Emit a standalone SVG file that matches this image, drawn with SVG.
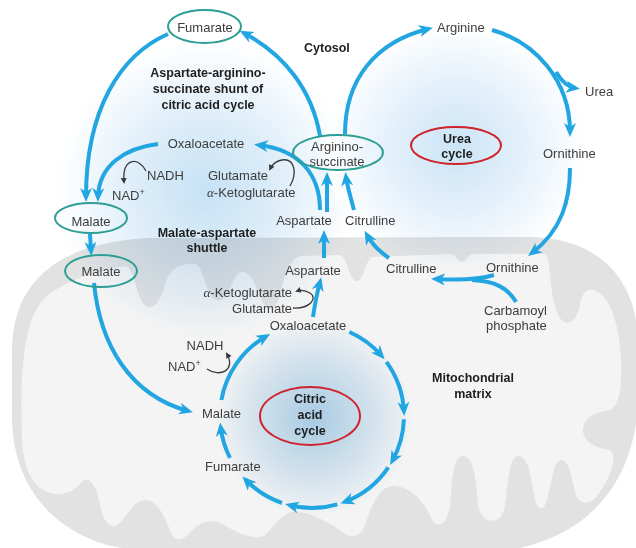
<svg xmlns="http://www.w3.org/2000/svg" width="636" height="548" viewBox="0 0 636 548">
<style>
text{font-family:"Liberation Sans",Arial,sans-serif;font-size:13px;fill:#3d3d3d}
.b{font-weight:bold;font-size:12.5px;fill:#1e1e1e}
.c{text-anchor:middle}
.e{text-anchor:end}
.teal{fill:none;stroke:#2c9e94;stroke-width:2}
.red{fill:none;stroke:#d0222b;stroke-width:2}
.arr{fill:none;stroke:#22a6e2;stroke-width:4;marker-end:url(#ah)}
.thin{fill:none;stroke:#3a3a3a;stroke-width:1.3;marker-end:url(#sh)}
.al{font-family:"Liberation Serif","DejaVu Serif",serif;font-style:italic}
</style>
<defs>
<marker id="ah" markerUnits="userSpaceOnUse" markerWidth="15" markerHeight="13" refX="9" refY="6" orient="auto" viewBox="0 0 15 12">
<path d="M0,0 L14,6 L0,12 L4,6 Z" fill="#22a6e2"/>
</marker>
<marker id="sh" markerUnits="userSpaceOnUse" markerWidth="7" markerHeight="7" refX="4" refY="3" orient="auto" viewBox="0 0 7 6">
<path d="M0,0 L6,3 L0,6 Z" fill="#3a3a3a"/>
</marker>
<radialGradient id="gShunt" cx="0.5" cy="0.5" r="0.5">
<stop offset="0" stop-color="#c6e2f5"/>
<stop offset="0.5" stop-color="#dfeef9"/>
<stop offset="1" stop-color="#ffffff"/>
</radialGradient>
<radialGradient id="gUrea" cx="0.5" cy="0.5" r="0.5">
<stop offset="0" stop-color="#cbe4f6"/>
<stop offset="0.5" stop-color="#e3f0fa"/>
<stop offset="1" stop-color="#ffffff"/>
</radialGradient>
<radialGradient id="gCit" cx="0.5" cy="0.5" r="0.5">
<stop offset="0" stop-color="#b0d4ee"/>
<stop offset="0.5" stop-color="#d6e9f6"/>
<stop offset="1" stop-color="#ffffff"/>
</radialGradient>
</defs>

<rect width="636" height="548" fill="#ffffff"/>

<g id="mitochondrion">
<path d="M122,548 C70,540 14,500 12,420 L12,350 C12,285 55,242 150,238 L530,237 C600,238 636,280 638,340 L638,400 C636,470 600,530 520,548 Z" fill="#e2e2e2"/>
<path d="M22,440 C20,380 22,320 45,298 C60,284 90,272 125,266 C135,266 136,300 146,306 C156,311 162,296 166,282 C170,268 182,262 196,264 C204,268 206,296 216,300 C226,304 230,286 236,276 C242,268 248,272 254,282 C260,300 266,312 274,308 C282,302 282,262 300,256 L340,255 C348,258 348,278 356,281 C364,283 364,262 372,257 L450,254 C456,254 458,262 462,262 C466,262 468,254 474,254 L545,254 C552,256 548,300 560,318 C568,330 578,318 580,305 C582,292 588,286 598,292 C612,300 620,330 621,360 C622,385 620,405 610,410 C595,412 584,418 583,430 C583,442 596,448 610,450 C618,455 612,475 598,495 C590,505 580,505 576,495 C572,480 570,462 562,460 C552,458 552,490 545,505 C538,515 535,500 532,485 C530,468 526,456 518,456 C508,456 508,490 504,510 C500,525 482,525 478,505 C476,488 476,457 463,456 C452,456 452,485 450,505 C448,525 436,532 430,515 C420,495 405,485 392,486 C378,488 372,505 365,525 C360,538 350,540 340,530 C325,520 305,510 292,512 C280,514 272,530 264,536 C250,540 232,530 222,524 C210,518 200,522 190,532 C184,540 176,542 172,535 C166,520 158,500 146,500 C134,500 128,515 120,523 C112,530 104,525 100,505 C96,482 88,476 82,482 C76,488 70,495 55,494 C40,492 24,480 22,440 Z" fill="#f4f4f4"/>
</g>

<g id="glows" style="mix-blend-mode:multiply">
<ellipse cx="206" cy="190" rx="150" ry="150" fill="url(#gShunt)"/>
<ellipse cx="456" cy="148" rx="130" ry="125" fill="url(#gUrea)"/>
<ellipse cx="314" cy="418" rx="100" ry="100" fill="url(#gCit)"/>
</g>

<g id="connectors">
<path class="arr" d="M320,136 C312,90 285,55 244,33"/>
<path class="arr" d="M168,34 C120,55 86,110 86,197"/>
<path class="arr" d="M158,144 C125,148 99,165 98,197"/>
<path class="arr" d="M320,210 C320,175 300,150 259,145"/>
<path class="arr" d="M327,212 L327,177"/>
<path class="arr" d="M354,210 C350,195 347,185 346,177"/>
<path class="arr" d="M345,134 C345,80 375,42 428,29"/>
<path class="arr" d="M492,30 C535,42 570,80 570,132"/>
<path class="arr" d="M556,72 C562,82 568,87 575,88"/>
<path class="arr" d="M570,168 C570,200 562,230 532,253"/>
<path class="arr" d="M494,275 C478,280 455,280 436,279"/>
<path class="arr" style="marker-end:none" d="M516,302 C508,288 495,281 472,280"/>
<path class="arr" d="M389,258 C380,252 372,244 367,235"/>
<path class="arr" d="M324,258 L324,235"/>
<path class="arr" d="M313,317 C315,303 317,293 320,282"/>
<path class="arr" d="M90,234 L91,251"/>
<path class="arr" d="M94,283 C100,345 130,395 188,411"/>
<path class="arr" d="M349.4,332 A92,92 0 0 1 381.3,355.5"/>
<path class="arr" d="M386.4,361.9 A92,92 0 0 1 403.9,411"/>
<path class="arr" d="M403.9,419.2 A92,92 0 0 1 392.5,460.5"/>
<path class="arr" d="M388.3,467.4 A92,92 0 0 1 345.1,501.8"/>
<path class="arr" d="M337.4,504.4 A92,92 0 0 1 289.9,505.3"/>
<path class="arr" d="M282,503 A92,92 0 0 1 245.9,480"/>
<path class="arr" d="M230,457.8 A92,92 0 0 1 220.7,427.4"/>
<path class="arr" d="M221.4,400 A92,92 0 0 1 265.9,336.4"/>
<path class="thin" d="M146,171 C138,156 122,158 124,182"/>
<path class="thin" d="M290,186 C298,172 294,158 282,160 C276,161 272,165 270,169"/>
<path class="thin" d="M207,369 C220,378 236,370 227,354"/>
<path class="thin" d="M293,308 C310,309 318,298 310,293 C305,290 300,290 297,291"/>
</g>

<g id="cytosol-label"><text class="b" x="304" y="52">Cytosol</text></g>
<g id="shunt-label">
<text class="b c" x="208" y="77">Aspartate-arginino-</text>
<text class="b c" x="208" y="93">succinate shunt of</text>
<text class="b c" x="208" y="109">citric acid cycle</text>
</g>
<g id="shuttle-label">
<text class="b c" x="207" y="237">Malate-aspartate</text>
<text class="b c" x="207" y="252">shuttle</text>
</g>
<g id="matrix-label">
<text class="b c" x="473" y="382">Mitochondrial</text>
<text class="b c" x="473" y="398">matrix</text>
</g>

<g id="fumarate-cyto"><ellipse class="teal" cx="204.5" cy="26.5" rx="36.5" ry="16.5"/><text class="c" x="205" y="32">Fumarate</text></g>
<g id="oxaloacetate-cyto"><text class="c" x="206" y="147.5">Oxaloacetate</text></g>
<g id="nadh-cyto"><text x="147" y="180">NADH</text></g>
<g id="nad-cyto"><text x="112" y="200">NAD<tspan font-size="9" dy="-5">+</tspan></text></g>
<g id="glutamate-cyto"><text x="208" y="180">Glutamate</text></g>
<g id="akg-cyto"><text x="207" y="197"><tspan class="al">α</tspan>-Ketoglutarate</text></g>
<g id="malate-cyto"><ellipse class="teal" cx="91" cy="218" rx="36" ry="15"/><text class="c" x="91" y="226">Malate</text></g>
<g id="malate-mem"><ellipse class="teal" cx="101" cy="271" rx="36" ry="16"/><text class="c" x="101" y="276">Malate</text></g>
<g id="argininosuccinate"><ellipse class="teal" cx="338" cy="152.5" rx="45" ry="17.5"/><text class="c" x="337" y="151">Arginino-</text><text class="c" x="337" y="166">succinate</text></g>
<g id="aspartate-cyto"><text class="c" x="304" y="225">Aspartate</text></g>
<g id="citrulline-cyto"><text x="345" y="225">Citrulline</text></g>
<g id="arginine"><text x="437" y="32">Arginine</text></g>
<g id="urea"><text x="585" y="96">Urea</text></g>
<g id="ornithine-cyto"><text x="543" y="158">Ornithine</text></g>
<g id="urea-cycle"><ellipse class="red" cx="456" cy="145.5" rx="45" ry="18.5"/><text class="b c" x="457" y="143">Urea</text><text class="b c" x="457" y="158">cycle</text></g>
<g id="aspartate-mito"><text class="c" x="313" y="275">Aspartate</text></g>
<g id="akg-mito"><text class="e" x="292" y="297"><tspan class="al">α</tspan>-Ketoglutarate</text></g>
<g id="glutamate-mito"><text class="e" x="292" y="313">Glutamate</text></g>
<g id="oxaloacetate-mito"><text class="c" x="308" y="330">Oxaloacetate</text></g>
<g id="nadh-mito"><text class="c" x="205" y="350">NADH</text></g>
<g id="nad-mito"><text x="168" y="371">NAD<tspan font-size="9" dy="-5">+</tspan></text></g>
<g id="malate-mito"><text x="202" y="418">Malate</text></g>
<g id="fumarate-mito"><text x="205" y="471">Fumarate</text></g>
<g id="citric-cycle"><ellipse class="red" cx="310" cy="416" rx="50" ry="29"/><text class="b c" x="310" y="403">Citric</text><text class="b c" x="310" y="419">acid</text><text class="b c" x="310" y="435">cycle</text></g>
<g id="citrulline-mito"><text x="386" y="273">Citrulline</text></g>
<g id="ornithine-mito"><text x="486" y="272">Ornithine</text></g>
<g id="carbamoyl-phosphate"><text x="484" y="315">Carbamoyl</text><text x="486" y="330">phosphate</text></g>
</svg>
